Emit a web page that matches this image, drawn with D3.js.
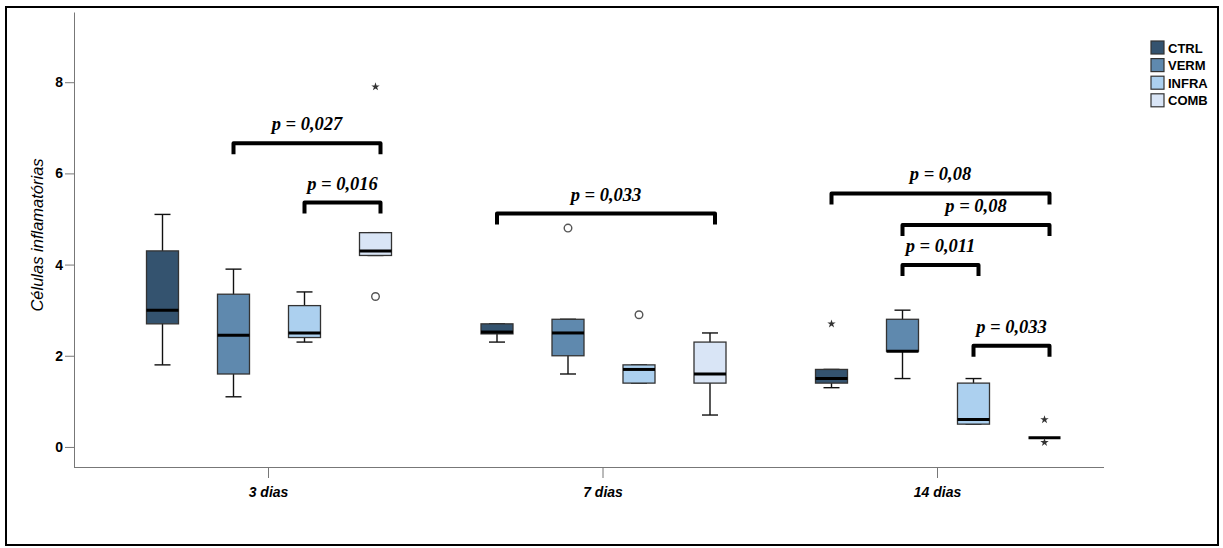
<!DOCTYPE html>
<html>
<head>
<meta charset="utf-8">
<script src="https://cdn.jsdelivr.net/npm/d3@7"></script>
<style>
  body { margin: 0; background: #fff; }
  svg { display: block; }
  .axis text { font-family: "Liberation Sans", Arial, sans-serif; font-weight: bold; fill: #000; }
  .axis .domain, .axis line { stroke: #777; }
</style>
</head>
<body>
<div class="container"></div>
<script>
// chart data
const groups = ["3 dias", "7 dias", "14 dias"];
const series = ["CTRL", "VERM", "INFRA", "COMB"];
const yTicks = [0, 2, 4, 6, 8];

// box stats per group: [low whisker, q1, median, q3, high whisker]
const ctrl = [[1.8, 2.7, 3.0, 4.3, 5.1], [2.3, 2.48, 2.52, 2.7, 2.7], [1.3, 1.4, 1.5, 1.7, 1.7]];
const verm = [[1.1, 1.6, 2.45, 3.35, 3.9], [1.6, 2.0, 2.5, 2.8, 2.8], [1.5, 2.1, 2.1, 2.8, 3.0]];
const infra = [[2.3, 2.4, 2.5, 3.1, 3.4], [1.4, 1.4, 1.7, 1.8, 1.8], [0.5, 0.5, 0.6, 1.4, 1.5]];
const comb = [[4.2, 4.2, 4.3, 4.7, 4.7], [0.7, 1.4, 1.6, 2.3, 2.5], [0.2, 0.2, 0.2, 0.2, 0.2]];

// outliers (circles) and extremes (stars)
const circles = [
  ["3 dias", "COMB", 3.3],
  ["7 dias", "VERM", 4.8],
  ["7 dias", "INFRA", 2.9]
];
const stars = [
  ["3 dias", "COMB", 7.9],
  ["14 dias", "CTRL", 2.7],
  ["14 dias", "COMB", 0.6],
  ["14 dias", "COMB", 0.1]
];

// significance brackets: group, from, to, height, label
const brackets = [
  ["3 dias", "VERM", "COMB", 6.66, "p = 0,027"],
  ["3 dias", "INFRA", "COMB", 5.36, "p = 0,016"],
  ["7 dias", "CTRL", "COMB", 5.12, "p = 0,033"],
  ["14 dias", "CTRL", "COMB", 5.56, "p = 0,08"],
  ["14 dias", "VERM", "COMB", 4.87, "p = 0,08"],
  ["14 dias", "VERM", "INFRA", 3.99, "p = 0,011"],
  ["14 dias", "INFRA", "COMB", 2.22, "p = 0,033"]
];

const colors = ["#34536f", "#5f89ae", "#acd0ef", "#d9e5f6"];
const stats = { CTRL: ctrl, VERM: verm, INFRA: infra, COMB: comb };

const W = 1223, H = 548;
const svg = d3.select(".container").append("svg").attr("width", W).attr("height", H);

// outer frame
svg.append("rect")
  .attr("x", 6).attr("y", 7).attr("width", 1212).attr("height", 538)
  .attr("fill", "none").attr("stroke", "#000").attr("stroke-width", 2);

const axisLeftX = 74, axisBottomY = 467, axisRightX = 1104;

const yScale = d3.scaleLinear().domain([-0.44, 9.54]).range([axisBottomY, 12]);
const xScale = d3.scalePoint().domain(groups).range([268, 937]);
const inner = d3.scaleBand().domain(series).range([-142, 142]);
const boxW = 32;
const cx = (g, s) => xScale(g) + inner(s) + inner.bandwidth() / 2 + 1;

// y axis
const yAxis = svg.append("g")
  .attr("class", "axis")
  .attr("transform", `translate(${axisLeftX},0)`)
  .call(d3.axisLeft(yScale).tickValues(yTicks).tickSize(9).tickSizeOuter(0).tickPadding(2));
yAxis.selectAll("text").style("font-size", "14px");

// x axis
const xAxis = svg.append("g")
  .attr("class", "axis")
  .attr("transform", `translate(0,${axisBottomY})`)
  .call(d3.axisBottom(xScale).tickSize(11).tickSizeOuter(0).tickPadding(9));
xAxis.select(".domain").attr("d", `M${axisLeftX},0.5H${axisRightX}`);
xAxis.selectAll("text")
  .style("font-family", "'Liberation Sans Narrow', 'Arial Narrow', 'Liberation Sans', sans-serif")
  .style("font-style", "italic")
  .style("font-size", "14px");

// y title
svg.append("text")
  .attr("transform", `translate(43,235) rotate(-90)`)
  .attr("text-anchor", "middle")
  .style("font-family", "'Liberation Sans', Arial, sans-serif")
  .style("font-style", "italic")
  .style("font-size", "16.5px")
  .text("Células inflamatórias");

// boxes
const boxes = [];
groups.forEach((g, gi) => {
  series.forEach((s, si) => {
    const [lo, q1, med, q3, hi] = stats[s][gi];
    boxes.push({ g, s, si, lo, q1, med, q3, hi });
  });
});

const boxG = svg.append("g").selectAll("g").data(boxes).join("g")
  .attr("transform", d => `translate(${cx(d.g, d.s)},0)`);

// whiskers
boxG.append("line")
  .attr("y1", d => yScale(d.hi)).attr("y2", d => yScale(d.lo))
  .attr("stroke", "#111").attr("stroke-width", 1.4);
boxG.selectAll(".cap").data(d => [d.lo, d.hi]).join("line")
  .attr("class", "cap")
  .attr("x1", -boxW / 4).attr("x2", boxW / 4)
  .attr("y1", v => yScale(v)).attr("y2", v => yScale(v))
  .attr("stroke", "#111").attr("stroke-width", 1.4);

boxG.append("rect")
  .attr("x", -boxW / 2).attr("width", boxW)
  .attr("y", d => yScale(d.q3))
  .attr("height", d => yScale(d.q1) - yScale(d.q3))
  .attr("fill", d => colors[d.si])
  .attr("stroke", "#333").attr("stroke-width", 1.3);

boxG.append("line")
  .attr("x1", -boxW / 2).attr("x2", boxW / 2)
  .attr("y1", d => yScale(d.med)).attr("y2", d => yScale(d.med))
  .attr("stroke", "#000").attr("stroke-width", 3);

// outliers
svg.append("g").selectAll("circle").data(circles).join("circle")
  .attr("cx", d => cx(d[0], d[1])).attr("cy", d => yScale(d[2]))
  .attr("r", 3.8)
  .attr("fill", "#fff").attr("stroke", "#555").attr("stroke-width", 1.4);

svg.append("g").selectAll("path").data(stars).join("path")
  .attr("transform", d => `translate(${cx(d[0], d[1])},${yScale(d[2])})`)
  .attr("d", d3.symbol(d3.symbolStar, 22))
  .attr("fill", "#333");

// brackets
const legH = 11;
const brG = svg.append("g").selectAll("g").data(brackets).join("g");
brG.append("path")
  .attr("d", d => {
    const x1 = cx(d[0], d[1]), x2 = cx(d[0], d[2]) + 5, y = yScale(d[3]);
    return `M${x1},${y + legH}V${y}H${x2}V${y + legH}`;
  })
  .attr("fill", "none").attr("stroke", "#000").attr("stroke-width", 4)
  .attr("stroke-linejoin", "round");
brG.append("text")
  .attr("x", d => (cx(d[0], d[1]) + cx(d[0], d[2]) + 5) / 2)
  .attr("y", d => yScale(d[3]) - 13)
  .attr("text-anchor", "middle")
  .style("font-family", "'Liberation Serif', 'Times New Roman', serif")
  .style("font-weight", "bold")
  .style("font-style", "italic")
  .style("font-size", "18.5px")
  .text(d => d[4]);

// legend
const legend = svg.append("g").attr("transform", "translate(1151,41)");
const item = legend.selectAll("g").data(series).join("g")
  .attr("transform", (d, i) => `translate(0,${i * 17.6})`);
item.append("rect")
  .attr("width", 13).attr("height", 13)
  .attr("fill", (d, i) => colors[i])
  .attr("stroke", "#333").attr("stroke-width", 1.2);
item.append("text")
  .attr("x", 17).attr("y", 11.5)
  .style("font-family", "'Liberation Sans Narrow', 'Arial Narrow', 'Liberation Sans', sans-serif")
  .style("font-weight", "bold")
  .style("font-size", "13px")
  .text(d => d);
</script>
</body>
</html>
